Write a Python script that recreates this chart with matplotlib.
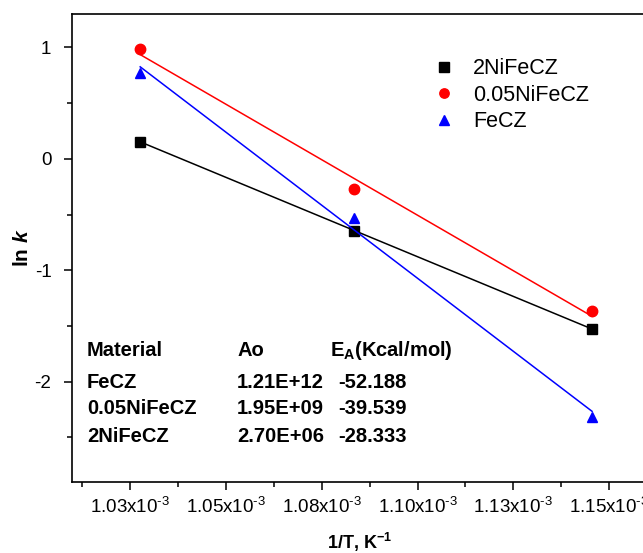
import numpy as np
import matplotlib.pyplot as plt
from matplotlib.ticker import MultipleLocator, FixedLocator

plt.rcParams['font.family'] = ['Liberation Sans', 'DejaVu Sans']
plt.rcParams['axes.unicode_minus'] = False
plt.rcParams['mathtext.fontset'] = 'custom'
plt.rcParams['mathtext.rm'] = 'Liberation Sans'
plt.rcParams['mathtext.bf'] = 'Liberation Sans:bold'
plt.rcParams['mathtext.it'] = 'Liberation Sans:italic:bold'

# data (x = 1/T, y = ln k)
invT = [1.0277e-3, 1.0834e-3, 1.1455e-3]
ln_2NiFeCZ = [0.154, -0.644, -1.526]
ln_005NiFeCZ = [0.986, -0.270, -1.368]
ln_FeCZ = [0.770, -0.530, -2.316]

series_names = ['2NiFeCZ', '0.05NiFeCZ', 'FeCZ']
series_colors = ['black', 'red', 'blue']
series_markers = ['s', 'o', '^']

xtick_vals = [1.025e-3, 1.050e-3, 1.075e-3, 1.100e-3, 1.125e-3, 1.150e-3]
xtick_text = ['1.03', '1.05', '1.08', '1.10', '1.13', '1.15']

table_head = ['Material', 'Ao', r'E$_\mathbf{A}$(Kcal/mol)']
table_rows = [['FeCZ', '1.21E+12', '-52.188'],
              ['0.05NiFeCZ', '1.95E+09', '-39.539'],
              ['2NiFeCZ', '2.70E+06', '-28.333']]

fig = plt.figure(figsize=(6.43, 5.53), dpi=100)
ax = fig.add_axes([72.3 / 643, 71 / 553, 575.4 / 643, 468 / 553])

x = np.array(invT)
for ys, name, col, mk in zip([ln_2NiFeCZ, ln_005NiFeCZ, ln_FeCZ],
                             series_names, series_colors, series_markers):
    p = np.polyfit(x, ys, 1)
    ax.plot(x, np.polyval(p, x), color=col, lw=1.1)
    ax.plot(x, ys, mk, color=col, ms=7.5, label=name, ls='none')

ax.set_xlim(1.010e-3, 1.160e-3)
ax.set_ylim(-2.9, 1.3)

ax.xaxis.set_major_locator(FixedLocator(xtick_vals))
ax.set_xticklabels([t + r'x10$^{\text{-3}}$' for t in xtick_text])
ax.xaxis.set_minor_locator(MultipleLocator(0.025e-3 / 2))
ax.yaxis.set_major_locator(MultipleLocator(1))
ax.yaxis.set_minor_locator(MultipleLocator(0.5))
ax.tick_params(which='major', direction='out', length=6, width=1.1, labelsize=13.5)
ax.tick_params(which='minor', direction='out', length=3.5, width=1.1)
ax.tick_params(axis='x', pad=5)
ax.tick_params(axis='y', pad=9)
ax.tick_params(top=False, right=False)
for s in ax.spines.values():
    s.set_linewidth(1.2)

ax.set_xlabel(r'1/T, K$^{\mathbf{-1}}$', fontsize=13, fontweight='bold', labelpad=9.5)
ax.set_ylabel(r'ln $\mathit{k}$', fontsize=15, fontweight='bold', labelpad=2)

ax.legend(loc='upper left', bbox_to_anchor=(414 / 643, 1 - 39 / 553),
          bbox_transform=fig.transFigure, frameon=False, fontsize=15.5,
          handlelength=1.0, handletextpad=0.85, labelspacing=0.25, markerscale=0.9)

# parameters table
col_x = [87, 237, 330]
row_y = [350, 383, 409, 436]
for j, txt in enumerate(table_head):
    fig.text(col_x[j] / 643, 1 - row_y[0] / 553, txt, fontsize=14.5,
             fontweight='bold', va='center')
for i, row in enumerate(table_rows):
    for j, txt in enumerate(row):
        xx = col_x[j] + (8 if j == 2 else 0)
        fig.text(xx / 643, 1 - row_y[i + 1] / 553, txt, fontsize=14.5,
                 fontweight='bold', va='center')

fig.savefig('out.png', dpi=100)
